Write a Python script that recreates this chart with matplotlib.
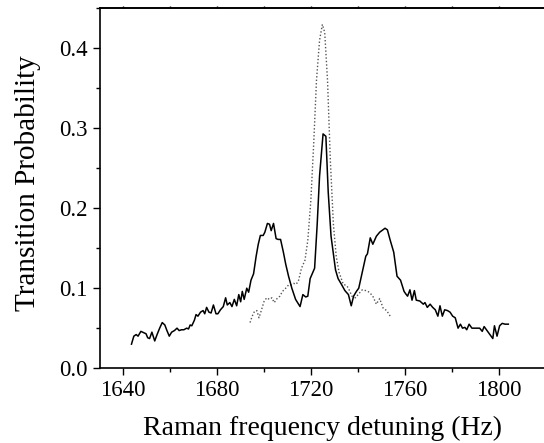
import matplotlib
matplotlib.use("Agg")
import matplotlib.pyplot as plt
from matplotlib.ticker import MultipleLocator

plt.rcParams["font.family"] = ["Liberation Serif", "DejaVu Serif"]

# solid trace: detuning (Hz) and transition probability
solid_hz = [1643.6, 1644.6, 1645.6, 1646.4, 1647.6, 1649.0, 1649.8, 1650.5, 1651.3, 1652.3,
            1653.5, 1654.5, 1655.6, 1656.7, 1657.8, 1658.7, 1659.7, 1660.7, 1661.9, 1663.0,
            1663.9, 1664.9, 1665.9, 1667.1, 1667.9, 1668.6, 1669.3, 1670.4, 1671.1, 1671.9,
            1673.0, 1674.1, 1674.8, 1675.6, 1676.6, 1677.5, 1678.5, 1679.6, 1680.4, 1681.5,
            1682.7, 1683.7, 1684.4, 1685.5, 1686.4, 1687.4, 1688.4, 1689.3, 1690.1, 1690.8,
            1691.6, 1692.7, 1693.5, 1694.5, 1695.6, 1696.7, 1697.6, 1698.5, 1699.7, 1700.4,
            1701.5, 1702.4, 1703.1, 1704.1, 1705.2, 1706.1, 1707.1, 1708.3, 1709.3, 1710.5,
            1711.9, 1713.5, 1715.4, 1716.6, 1717.8, 1718.7, 1719.7, 1720.9, 1721.6, 1722.7,
            1723.7, 1725.2, 1726.4, 1727.4, 1728.6, 1730.5, 1731.6, 1733.0, 1734.5, 1736.0,
            1737.2, 1738.2, 1739.4, 1740.4, 1741.9, 1743.4, 1744.1, 1745.3, 1746.4, 1747.9,
            1749.3, 1751.6, 1752.6, 1753.8, 1755.3, 1756.7, 1758.2, 1759.7, 1760.4, 1761.2,
            1762.2, 1763.1, 1764.1, 1764.9, 1766.4, 1767.9, 1768.6, 1769.6, 1770.8, 1771.9,
            1773.0, 1774.1, 1775.0, 1776.0, 1777.0, 1778.2, 1779.3, 1780.4, 1781.5, 1782.7,
            1783.7, 1784.6, 1785.6, 1786.4, 1787.4, 1788.6, 1789.8, 1790.8, 1791.9, 1793.0,
            1793.8, 1795.3, 1796.3, 1797.5, 1798.2, 1799.3, 1800.4, 1801.5, 1802.7, 1804.1]
solid_p = [0.030, 0.040, 0.042, 0.040, 0.046, 0.044, 0.043, 0.038, 0.037, 0.045,
           0.034, 0.042, 0.050, 0.057, 0.054, 0.047, 0.040, 0.045, 0.047, 0.050,
           0.047, 0.048, 0.048, 0.050, 0.049, 0.054, 0.053, 0.060, 0.067, 0.065,
           0.070, 0.072, 0.068, 0.076, 0.070, 0.069, 0.079, 0.068, 0.068, 0.073,
           0.077, 0.088, 0.079, 0.082, 0.077, 0.086, 0.078, 0.092, 0.083, 0.096,
           0.086, 0.100, 0.095, 0.110, 0.118, 0.140, 0.155, 0.166, 0.166, 0.170,
           0.181, 0.180, 0.172, 0.181, 0.162, 0.161, 0.161, 0.145, 0.130, 0.115,
           0.100, 0.086, 0.077, 0.092, 0.089, 0.090, 0.112, 0.120, 0.125, 0.180,
           0.240, 0.293, 0.290, 0.220, 0.165, 0.123, 0.112, 0.105, 0.097, 0.092,
           0.078, 0.090, 0.096, 0.100, 0.120, 0.140, 0.143, 0.163, 0.155, 0.165,
           0.170, 0.175, 0.173, 0.160, 0.145, 0.115, 0.110, 0.096, 0.093, 0.090,
           0.098, 0.085, 0.097, 0.085, 0.084, 0.080, 0.082, 0.076, 0.080, 0.076,
           0.073, 0.065, 0.078, 0.065, 0.073, 0.072, 0.070, 0.065, 0.063, 0.050,
           0.055, 0.050, 0.051, 0.048, 0.055, 0.050, 0.050, 0.050, 0.050, 0.046,
           0.052, 0.046, 0.042, 0.037, 0.053, 0.040, 0.053, 0.056, 0.055, 0.055]

# dotted trace
dotted_hz = [1694.1, 1695.0, 1696.0, 1697.0, 1697.9, 1699.0, 1700.0, 1701.2, 1702.4, 1703.4,
             1704.4, 1705.6, 1706.8, 1707.9, 1709.3, 1710.5, 1711.6, 1712.7, 1713.8, 1714.8,
             1716.0, 1717.5, 1718.7, 1720.0, 1721.2, 1722.4, 1723.7, 1724.9, 1725.9, 1727.1,
             1728.3, 1729.6, 1730.8, 1732.0, 1733.8, 1735.3, 1736.0, 1737.5, 1739.0, 1740.4,
             1741.9, 1743.4, 1744.9, 1746.4, 1747.9, 1749.3, 1750.8, 1752.3, 1753.8]
dotted_p = [0.057, 0.065, 0.071, 0.072, 0.063, 0.073, 0.083, 0.088, 0.086, 0.088,
            0.082, 0.087, 0.090, 0.096, 0.100, 0.104, 0.104, 0.106, 0.105, 0.110,
            0.125, 0.135, 0.160, 0.210, 0.280, 0.360, 0.410, 0.430, 0.420, 0.360,
            0.260, 0.180, 0.140, 0.120, 0.105, 0.103, 0.100, 0.090, 0.088, 0.093,
            0.098, 0.097, 0.095, 0.090, 0.080, 0.087, 0.075, 0.072, 0.065]

fig = plt.figure(figsize=(5.44, 4.43), dpi=100)
ax = fig.add_axes([0.183, 0.169, 0.82, 0.812])

ax.plot(dotted_hz, dotted_p, color="#555555", lw=1.0, ls=(0, (1, 1.5)))
ax.plot(solid_hz, solid_p, color="black", lw=1.1)

ax.set_xlim(1630, 1820)
ax.set_ylim(0, 0.45)
ax.xaxis.set_major_locator(MultipleLocator(40))
ax.xaxis.set_minor_locator(MultipleLocator(20))
ax.yaxis.set_major_locator(MultipleLocator(0.1))
ax.yaxis.set_minor_locator(MultipleLocator(0.05))
ax.yaxis.set_major_formatter(plt.FormatStrFormatter("%.1f"))

ax.tick_params(which="major", direction="out", length=5, width=1, labelsize=16.5)
ax.tick_params(which="minor", direction="out", length=3, width=1)
ax.spines["right"].set_visible(False)
for s in ax.spines.values():
    s.set_linewidth(1.2)

# tiny ticks on the top frame
top = ax.secondary_xaxis("top")
top.xaxis.set_major_locator(MultipleLocator(20))
top.tick_params(direction="out", length=1.5, width=1, labeltop=False)
top.spines["top"].set_linewidth(1.2)

ax.set_xlabel("Raman frequency detuning (Hz)", fontsize=20, labelpad=11)
ax.set_ylabel("Transition Probability", fontsize=21, labelpad=13, y=0.515)

fig.savefig("out.png", dpi=100)
